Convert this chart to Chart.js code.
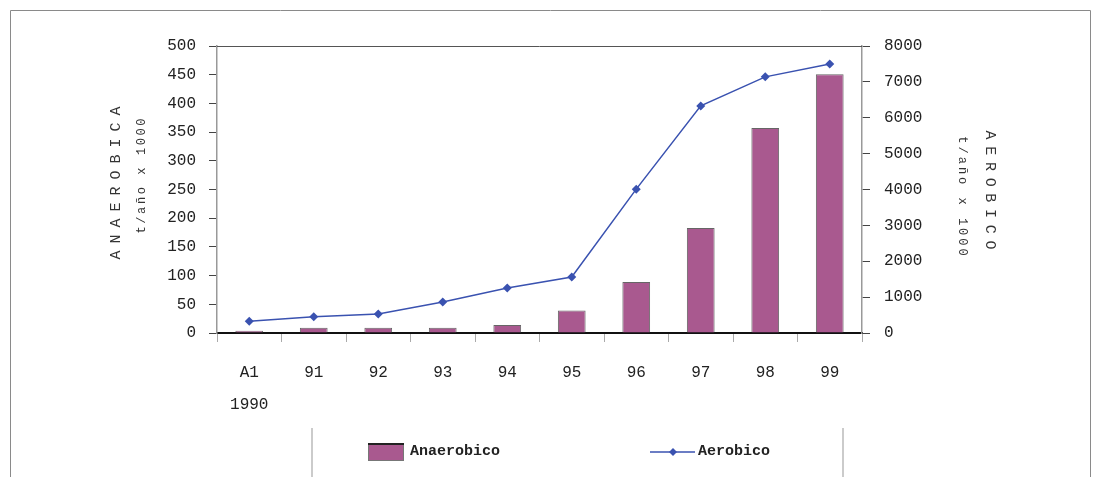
<!DOCTYPE html>
<html>
<head>
<meta charset="utf-8">
<script src="https://cdn.jsdelivr.net/npm/chart.js@4/dist/chart.umd.min.js"></script>
<style>
  html, body { margin: 0; padding: 0; background: #fff; }
  #wrap { width: 1101px; height: 477px; position: relative; }
</style>
</head>
<body>
<div id="wrap"><canvas id="Chart" width="1101" height="477"></canvas></div>
<script>
const years = [['A1', '1990'], '91', '92', '93', '94', '95', '96', '97', '98', '99'];
const anaerobico = [4, 9, 9, 9, 14, 39, 89, 183, 357, 451];
const aerobico = [330, 450, 530, 865, 1255, 1560, 4010, 6330, 7140, 7500];

const barColor = '#a9598f';
const lineColor = '#3a52b0';
const mono = '"Liberation Mono", "DejaVu Sans Mono", monospace';

function vText(c, text, x, y, angle, font, spacing) {
    c.save();
    c.translate(x, y);
    c.rotate(angle);
    c.font = font;
    c.letterSpacing = spacing + 'px';
    c.textAlign = 'center';
    c.textBaseline = 'middle';
    c.fillText(text, spacing / 2, 0);
    c.restore();
}

// frame, top line, axis titles, legend
const extras = {
    id: 'extras',
    afterDraw(chart) {
        const c = chart.ctx;
        const a = chart.chartArea;
        c.save();
        // outer frame
        c.strokeStyle = '#8a8a8a';
        c.lineWidth = 1;
        c.beginPath();
        c.moveTo(10.5, 477); c.lineTo(10.5, 10.5); c.lineTo(1090.5, 10.5); c.lineTo(1090.5, 477);
        c.stroke();
        // top border of plot
        c.strokeStyle = '#555';
        c.beginPath();
        c.moveTo(a.left, a.top + 0.5); c.lineTo(a.right, a.top + 0.5);
        c.stroke();

        // axis titles
        c.fillStyle = '#333';
        vText(c, 'ANAEROBICA', 116, 183, -Math.PI / 2, '15px ' + mono, 7);
        vText(c, 't/año x 1000', 142, 176, -Math.PI / 2, '12px ' + mono, 2.6);
        vText(c, 'AEROBICO', 990, 190, Math.PI / 2, '15px ' + mono, 6.7);
        vText(c, 't/año x 1000', 962, 196, Math.PI / 2, '12px ' + mono, 3);

        // legend box
        c.strokeStyle = '#bbb';
        c.lineWidth = 1.5;
        c.beginPath();
        c.moveTo(312, 428); c.lineTo(312, 477);
        c.moveTo(843, 428); c.lineTo(843, 477);
        c.stroke();
        c.fillStyle = barColor;
        c.fillRect(368, 444, 36, 17);
        c.strokeStyle = '#777';
        c.lineWidth = 1;
        c.strokeRect(368.5, 444.5, 35, 16);
        c.strokeStyle = '#222';
        c.lineWidth = 2;
        c.beginPath(); c.moveTo(368, 444); c.lineTo(404, 444); c.stroke();
        c.fillStyle = '#222';
        c.font = 'bold 15px ' + mono;
        c.textAlign = 'left';
        c.textBaseline = 'middle';
        c.fillText('Anaerobico', 410, 451);
        c.strokeStyle = lineColor;
        c.lineWidth = 1.5;
        c.beginPath(); c.moveTo(650, 452); c.lineTo(695, 452); c.stroke();
        c.fillStyle = lineColor;
        c.beginPath();
        c.moveTo(673, 448); c.lineTo(677, 452); c.lineTo(673, 456); c.lineTo(669, 452);
        c.closePath(); c.fill();
        c.fillStyle = '#222';
        c.fillText('Aerobico', 698, 451);
        c.restore();
    }
};

const ctx = document.getElementById('Chart').getContext('2d');
new Chart(ctx, {
    data: {
        labels: years,
        datasets: [
            {
                type: 'line',
                label: 'Aerobico',
                data: aerobico,
                yAxisID: 'y2',
                borderColor: lineColor,
                backgroundColor: lineColor,
                borderWidth: 1.5,
                pointStyle: 'rectRot',
                pointRadius: 4.5,
                pointBorderWidth: 0,
                tension: 0,
                order: 0
            },
            {
                type: 'bar',
                label: 'Anaerobico',
                data: anaerobico,
                yAxisID: 'y',
                backgroundColor: barColor,
                borderColor: '#666',
                borderWidth: 1,
                categoryPercentage: 0.86,
                barPercentage: 0.5,
                order: 1
            }
        ]
    },
    options: {
        responsive: false,
        animation: false,
        layout: { padding: { top: 46, left: 0, right: 0, bottom: 0 } },
        plugins: {
            legend: { display: false },
            tooltip: { enabled: false }
        },
        scales: {
            x: {
                offset: true,
                afterFit: (s) => { s.height = 144; },
                grid: {
                    drawOnChartArea: false,
                    drawTicks: true,
                    tickLength: 9,
                    color: '#aaa',
                    offset: true
                },
                border: { display: true, color: '#111', width: 2 },
                ticks: {
                    color: '#222',
                    padding: 14,
                    maxRotation: 0,
                    autoSkip: false,
                    font: { family: mono, size: 16, lineHeight: 2.05 }
                }
            },
            y: {
                position: 'left',
                min: 0,
                max: 500,
                afterFit: (s) => { s.width = 217; },
                grid: {
                    drawOnChartArea: false,
                    tickLength: 8,
                    color: '#444'
                },
                border: { display: true, color: '#999', width: 1.5 },
                ticks: {
                    stepSize: 50,
                    color: '#222',
                    padding: 13,
                    font: { family: mono, size: 16 }
                }
            },
            y2: {
                position: 'right',
                min: 0,
                max: 8000,
                afterFit: (s) => { s.width = 239; },
                grid: {
                    drawOnChartArea: false,
                    tickLength: 8,
                    color: '#444'
                },
                border: { display: true, color: '#999', width: 1.5 },
                ticks: {
                    stepSize: 1000,
                    color: '#222',
                    padding: 14,
                    callback: (v) => String(v),
                    font: { family: mono, size: 16 }
                }
            }
        }
    },
    plugins: [extras]
});
</script>
</body>
</html>
